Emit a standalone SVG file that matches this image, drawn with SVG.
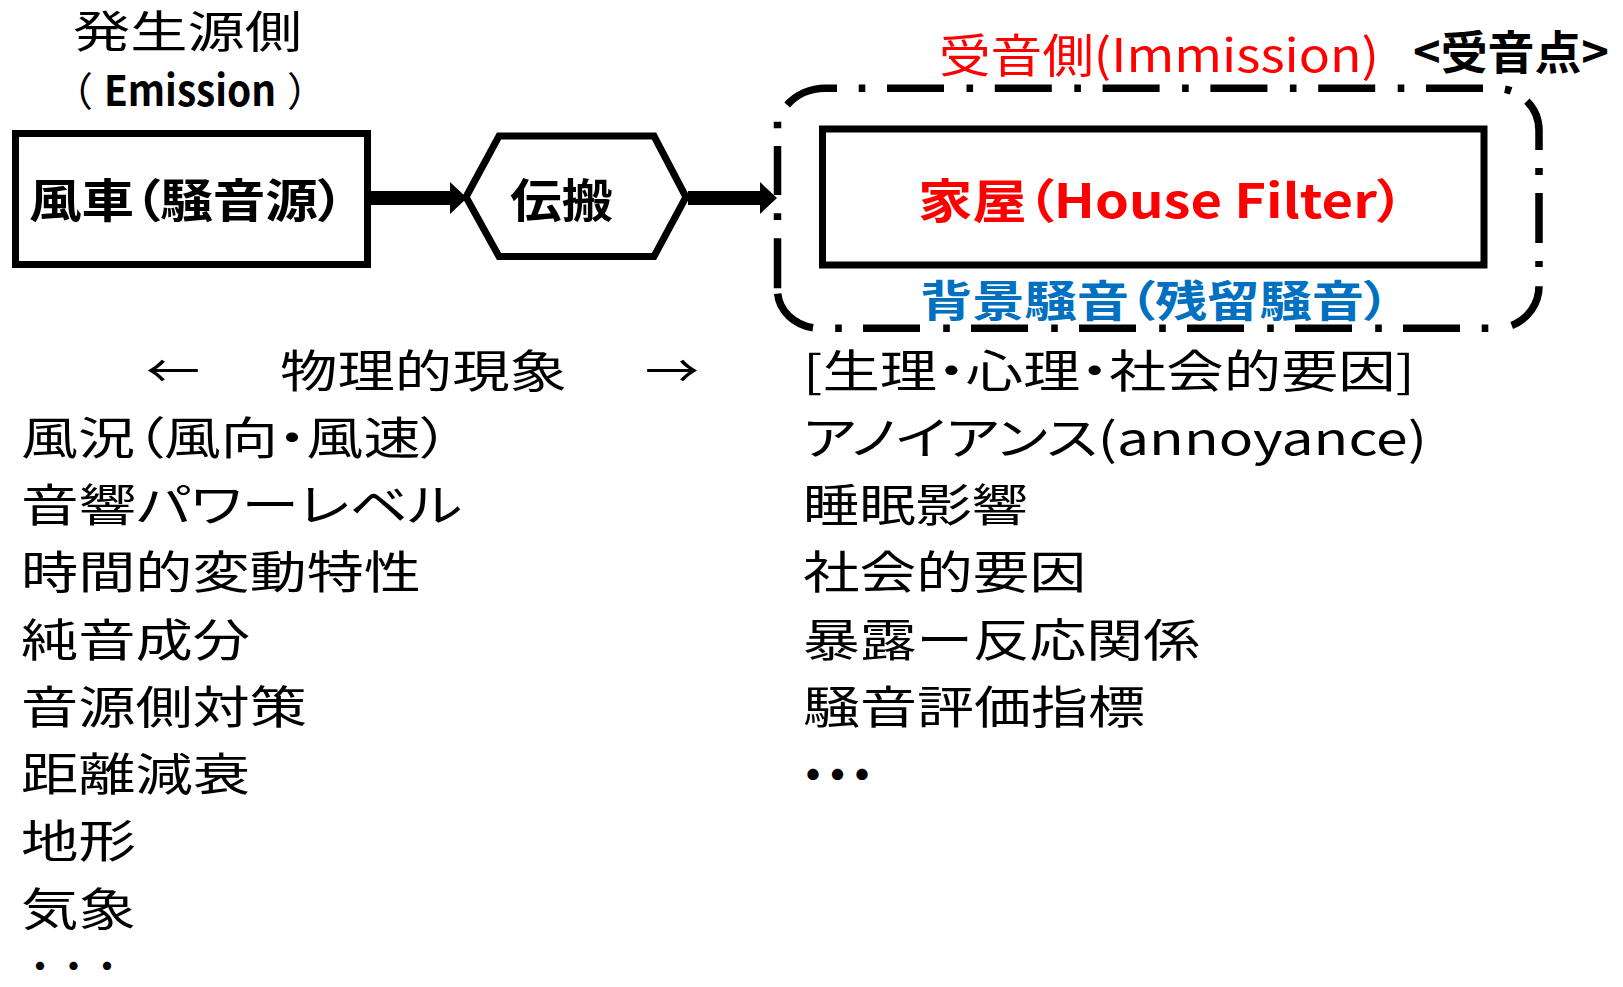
<svg xmlns="http://www.w3.org/2000/svg" width="1623" height="987" viewBox="0 0 1623 987">
<style>
.t { font-family: "Noto Sans CJK JP", "Noto Sans CJK SC", sans-serif; font-feature-settings: "palt" 1; fill: #000; }
.b { font-weight: 700; }
.red { fill: #FF0000; }
.blue { fill: #0070C0; }
.list { font-size: 45px; }
.fw { font-feature-settings: normal; }
.dots { font-feature-settings: normal; font-weight: 700; }
.box { fill: #fff; stroke: #000; stroke-width: 7; }
.dash { fill: none; stroke: #000; stroke-width: 7.5; stroke-linecap: butt; }
.shaft { stroke: #000; stroke-width: 14; fill: none; marker-end: url(#ah); }
</style>
<defs>
<marker id="ah" markerUnits="userSpaceOnUse" viewBox="0 0 17 32" markerWidth="17" markerHeight="32" refX="0" refY="16" orient="auto">
<path d="M0,0 L17,16 L0,32 Z" fill="#000"/>
</marker>
</defs>
<rect width="1623" height="987" fill="#fff"/>

<g id="header-labels">
<text class="t" x="73" y="48" font-size="44" textLength="229" lengthAdjust="spacingAndGlyphs">発生源側</text>
<g id="emission-label">
<text class="t fw" x="53" y="106" font-size="40">（</text>
<text class="t b" x="104" y="106" font-size="42" textLength="172" lengthAdjust="spacingAndGlyphs">Emission</text>
<text class="t fw" x="287" y="106" font-size="40">）</text>
</g>
<text class="t red" x="939" y="72" font-size="46" textLength="440" lengthAdjust="spacingAndGlyphs">受音側(Immission)</text>
<text class="t b" x="1413" y="69" font-size="46" textLength="196" lengthAdjust="spacingAndGlyphs">&lt;受音点&gt;</text>
</g>

<g id="receiver-area">
<path class="dash" d="M787.2,105 A48,42 0 0 1 825.5,88.3 H837
M858.7,88.3 H865.3 M887,88.3 H944 M966.5,88.3 H973.1 M994.8,88.3 H1051.8 M1074.3,88.3 H1080.9 M1102.6,88.3 H1159.6 M1182.1,88.3 H1188.7 M1210.4,88.3 H1267.4 M1289.9,88.3 H1296.5 M1318.2,88.3 H1375.2 M1397.7,88.3 H1404.3 M1426,88.3 H1483
M1504.9,89.2 A43,42 0 0 1 1511.1,90.9
M1526.9,101.1 A43,42 0 0 1 1539,130.3 V150
M1539,168 V175 M1539,193 V243 M1539,261 V267
M1539,286.3 A43,42 0 0 1 1511.7,325.4
M1488.3,328.3 H1481.7 M1460,328.3 H1403 M1381.8,328.3 H1375.2 M1352,328.3 H1295 M1273.8,328.3 H1267.2 M1244,328.3 H1187 M1165.8,328.3 H1159.2 M1136,328.3 H1079 M1057.8,328.3 H1051.2 M1028,328.3 H971 M949.8,328.3 H943.2 M920,328.3 H863 M841.8,328.3 H835.2
M813,327.7 A43,38 0 0 1 777.7,293.6
M777.5,288.3 V238.3 M777.5,220 V213.3 M777.5,195 V146 M777.5,128.3 V121.7"/>
<text class="t b blue" x="920" y="317" font-size="43" textLength="470" lengthAdjust="spacingAndGlyphs">背景騒音（残留騒音）</text>
</g>

<g id="source">
<rect class="box" x="15.5" y="133.5" width="352" height="131"/>
<text class="t b" x="29" y="217" font-size="46" textLength="315" lengthAdjust="spacingAndGlyphs">風車（騒音源）</text>
</g>

<g id="propagation">
<polygon class="box" points="466,197 499,136 654,136 686,197 654,256.5 499,256.5"/>
<text class="t b" x="510" y="217" font-size="46" textLength="103" lengthAdjust="spacingAndGlyphs">伝搬</text>
</g>

<g id="house">
<rect class="box" x="822.5" y="129" width="661.5" height="136"/>
<text class="t b red" x="918" y="218" font-size="47" textLength="486" lengthAdjust="spacingAndGlyphs">家屋（House Filter）</text>
</g>

<g id="connectors">
<line class="shaft" x1="370" y1="198" x2="450" y2="198"/>
<line class="shaft" x1="688" y1="198" x2="760" y2="198"/>
</g>

<g id="physical-list">
<text class="t list" x="146" y="388" textLength="54" lengthAdjust="spacingAndGlyphs">←</text>
<text class="t list" x="280" y="388" textLength="287" lengthAdjust="spacingAndGlyphs">物理的現象</text>
<text class="t list" x="645" y="388" textLength="54" lengthAdjust="spacingAndGlyphs">→</text>
<text class="t list" x="21" y="455" textLength="428" lengthAdjust="spacingAndGlyphs">風況（風向・風速）</text>
<text class="t list" x="21" y="522" textLength="441" lengthAdjust="spacingAndGlyphs">音響パワーレベル</text>
<text class="t list" x="21" y="589" textLength="400" lengthAdjust="spacingAndGlyphs">時間的変動特性</text>
<text class="t list" x="21" y="657" textLength="229" lengthAdjust="spacingAndGlyphs">純音成分</text>
<text class="t list" x="21" y="724" textLength="286" lengthAdjust="spacingAndGlyphs">音源側対策</text>
<text class="t list" x="21" y="791" textLength="229" lengthAdjust="spacingAndGlyphs">距離減衰</text>
<text class="t list" x="21" y="858" textLength="115" lengthAdjust="spacingAndGlyphs">地形</text>
<text class="t list" x="21" y="926" textLength="115" lengthAdjust="spacingAndGlyphs">気象</text>
<text class="t dots" x="24" y="977.5" style="font-size:32px" textLength="99" lengthAdjust="spacing">・・・</text>
</g>

<g id="psychological-list">
<text class="t list" x="803" y="388" textLength="612" lengthAdjust="spacingAndGlyphs">[生理・心理・社会的要因]</text>
<text class="t list" x="803" y="455" textLength="624" lengthAdjust="spacingAndGlyphs">アノイアンス(annoyance)</text>
<text class="t list" x="803" y="522" textLength="225" lengthAdjust="spacingAndGlyphs">睡眠影響</text>
<text class="t list" x="803" y="589" textLength="283" lengthAdjust="spacingAndGlyphs">社会的要因</text>
<text class="t list" x="803" y="657" textLength="397" lengthAdjust="spacingAndGlyphs">暴露ー反応関係</text>
<text class="t list" x="803" y="724" textLength="342" lengthAdjust="spacingAndGlyphs">騒音評価指標</text>
<text class="t dots" x="791" y="791" style="font-size:44px" textLength="93" lengthAdjust="spacing">・・・</text>
</g>
</svg>
